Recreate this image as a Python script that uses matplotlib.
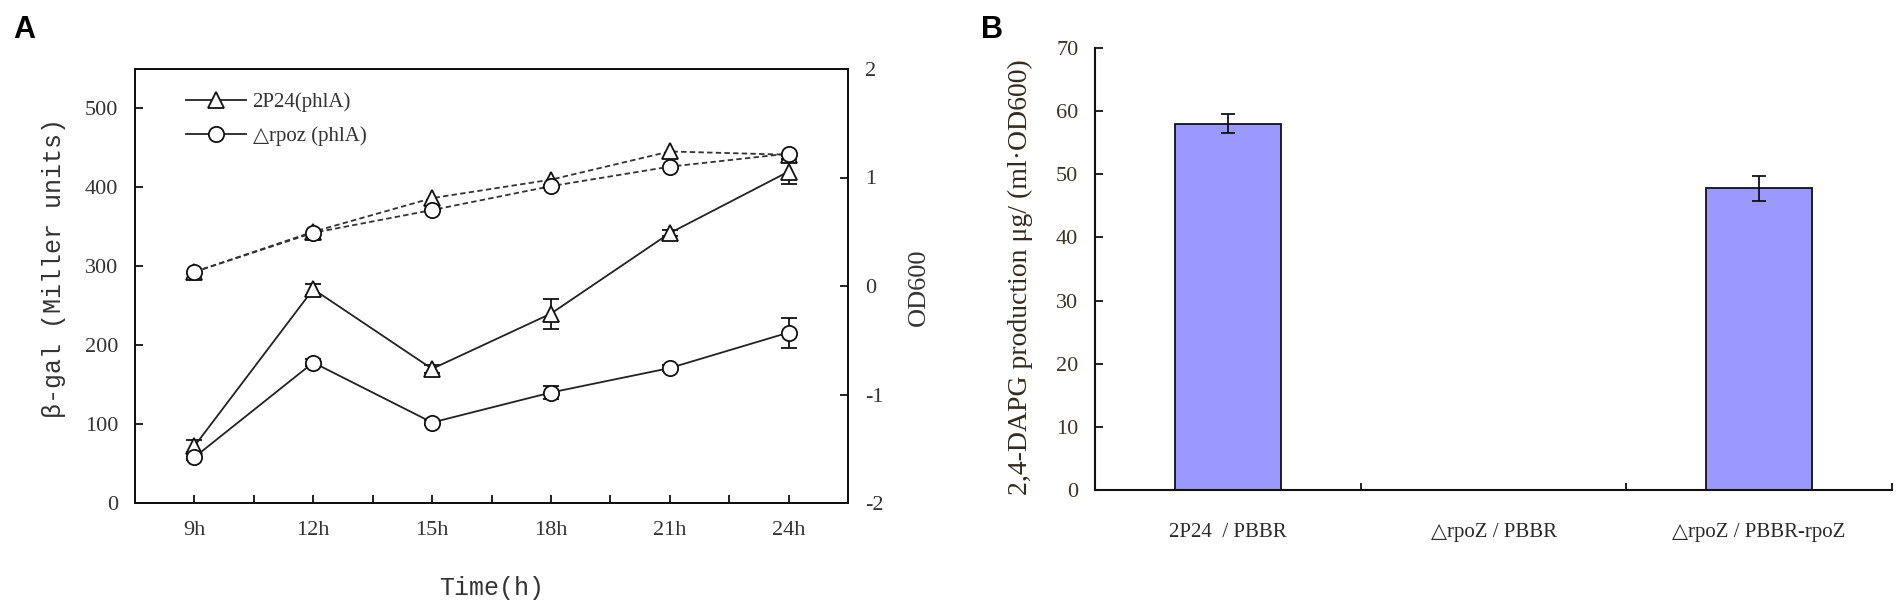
import numpy as np
import matplotlib
matplotlib.use("Agg")
import matplotlib.pyplot as plt
from matplotlib.ticker import FixedLocator, NullFormatter

plt.rcParams['axes.unicode_minus'] = False

# panel A: beta-gal (left axis) and OD600 (right axis) over time
times = ['9h', '12h', '15h', '18h', '21h', '24h']
bgal_2p24 = [72, 271, 170, 240, 342, 420]
bgal_2p24_err = [8, 7, 5, 19, 4, 16]
bgal_rpoz = [58, 178, 102, 140, 171, 216]
bgal_rpoz_err = [4, 4, 3, 8, 4, 19]
od_2p24 = [0.13, 0.50, 0.81, 0.98, 1.24, 1.21]
od_rpoz = [0.13, 0.49, 0.70, 0.92, 1.10, 1.22]
legend_labels = ['2P24(phlA)', '△rpoz (phlA)']

# panel B: 2,4-DAPG production
strains = ['2P24  / PBBR', '△rpoZ / PBBR', '△rpoZ / PBBR-rpoZ']
dapg = [58.0, 0.0, 47.8]
dapg_err = [1.5, 0.0, 2.0]

W, H = 1901, 604
serif = ['Liberation Serif', 'DejaVu Sans']
mono = ['Liberation Mono', 'DejaVu Sans Mono']
txt = '#333333'

fig = plt.figure(figsize=(W / 100, H / 100), dpi=100)


def px_axes(left, top, right, bottom):
    return fig.add_axes([left / W, 1 - bottom / H, (right - left) / W, (bottom - top) / H])


# ---------- panel A ----------
ax = px_axes(135, 69, 848, 503)
x = np.arange(len(times))

ax.errorbar(x, bgal_2p24, yerr=bgal_2p24_err, fmt='none', ecolor='#111111',
            elinewidth=1.3, capsize=6, capthick=1.3, zorder=2)
ax.errorbar(x, bgal_rpoz, yerr=bgal_rpoz_err, fmt='none', ecolor='#111111',
            elinewidth=1.3, capsize=6, capthick=1.3, zorder=2)
l1, = ax.plot(x, bgal_2p24, color='#222222', lw=1.3, marker='^', ms=12,
              mfc='white', mec='#111111', mew=1.3, label=legend_labels[0], zorder=3)
l2, = ax.plot(x, bgal_rpoz, color='#222222', lw=1.3, marker='o', ms=11,
              mfc='white', mec='#111111', mew=1.3, label=legend_labels[1], zorder=4)

ax.set_xlim(-0.5, len(times) - 0.5)
ax.set_ylim(0, 550)
ax.set_xticks(x)
ax.set_xticklabels(times)
ax.xaxis.set_minor_locator(FixedLocator(np.arange(0.5, len(times) - 1, 1.0)))
ax.xaxis.set_minor_formatter(NullFormatter())
ax.set_yticks([0, 100, 200, 300, 400, 500])
ax.tick_params(axis='both', which='both', direction='in', length=6, width=1.3,
               labelsize=16, colors='#111111', labelcolor=txt)
ax.tick_params(axis='x', which='both', pad=13)
ax.tick_params(axis='y', pad=12)
for lab in ax.get_xticklabels() + ax.get_yticklabels():
    lab.set_family(serif)
for s in ax.spines.values():
    s.set_linewidth(1.4)
    s.set_color('#111111')

ax2 = ax.twinx()
ax2.plot(x, od_2p24, color='#333333', lw=1.3, ls=(0, (3, 1.8)),
         marker='^', ms=12, mfc='white', mec='#111111', mew=1.3, zorder=3)
ax2.plot(x, od_rpoz, color='#333333', lw=1.3, ls=(0, (3, 1.8)),
         marker='o', ms=11, mfc='white', mec='#111111', mew=1.3, zorder=4)
ax2.set_ylim(-2, 2)
ax2.set_yticks([-2, -1, 0, 1, 2])
ax2.tick_params(axis='y', direction='in', length=6, width=1.3, labelsize=16,
                colors='#111111', labelcolor=txt, pad=12)
for lab in ax2.get_yticklabels():
    lab.set_family(serif)
for s in ax2.spines.values():
    s.set_linewidth(1.4)
    s.set_color('#111111')

leg = ax2.legend(handles=[l1, l2], loc='upper left', bbox_to_anchor=(0.045, 0.99),
                 frameon=False, handlelength=2.9, handletextpad=0.3,
                 labelspacing=0.7, prop={'family': serif, 'size': 15})
for t in leg.get_texts():
    t.set_color(txt)

fig.text(54, H - 268, 'β-gal (Miller units)', transform=None, rotation=90,
         ha='center', va='center', family=mono, fontsize=18, color=txt)
fig.text(492, H - 588, 'Time(h)', transform=None, ha='center', va='center',
         family=mono, fontsize=18, color=txt)
fig.text(919, H - 287, 'OD600', transform=None, rotation=90, ha='center',
         va='center', family=serif, fontsize=19, color=txt)

# ---------- panel B ----------
bx = px_axes(1095, 48, 1892, 490)
xb = np.arange(len(strains))
bx.bar(xb, dapg, width=0.4, color='#9999FF', edgecolor='#111111', linewidth=1.3,
       zorder=2)
bx.errorbar(xb, dapg, yerr=dapg_err, fmt='none', ecolor='#111111',
            elinewidth=1.3, capsize=5, capthick=1.3, zorder=3)
bx.set_xlim(-0.5, len(strains) - 0.5)
bx.set_ylim(0, 70)
bx.set_yticks(np.arange(0, 71, 10))
bx.set_xticks(xb)
bx.set_xticklabels(strains)
bx.xaxis.set_minor_locator(FixedLocator(np.arange(0.5, len(strains), 1.0)))
bx.xaxis.set_minor_formatter(NullFormatter())
bx.tick_params(axis='x', which='major', length=0, pad=24, labelsize=15,
               labelcolor='#2a2a2a')
bx.tick_params(axis='x', which='minor', direction='in', length=5, width=1.3,
               colors='#111111')
bx.tick_params(axis='y', direction='in', length=6, width=1.3, labelsize=16,
               colors='#111111', labelcolor='#3d3425', pad=12)
for lab in bx.get_xticklabels() + bx.get_yticklabels():
    lab.set_family(serif)
bx.spines['top'].set_visible(False)
bx.spines['right'].set_visible(False)
for s in ['left', 'bottom']:
    bx.spines[s].set_linewidth(1.5)
    bx.spines[s].set_color('#111111')

fig.text(1020, H - 277, '2,4-DAPG production μg/ (ml·OD600)', transform=None,
         rotation=90, ha='center', va='center', family=serif, fontsize=20,
         color='#332a1e')

fig.text(24, H - 30, 'A', transform=None, ha='center', va='center',
         family=['Liberation Sans', 'DejaVu Sans'], fontweight='bold',
         fontsize=22, color='black')
fig.text(992, H - 30, 'B', transform=None, ha='center', va='center',
         family=['Liberation Sans', 'DejaVu Sans'], fontweight='bold',
         fontsize=22, color='black')

fig.savefig('out.png', dpi=100)
